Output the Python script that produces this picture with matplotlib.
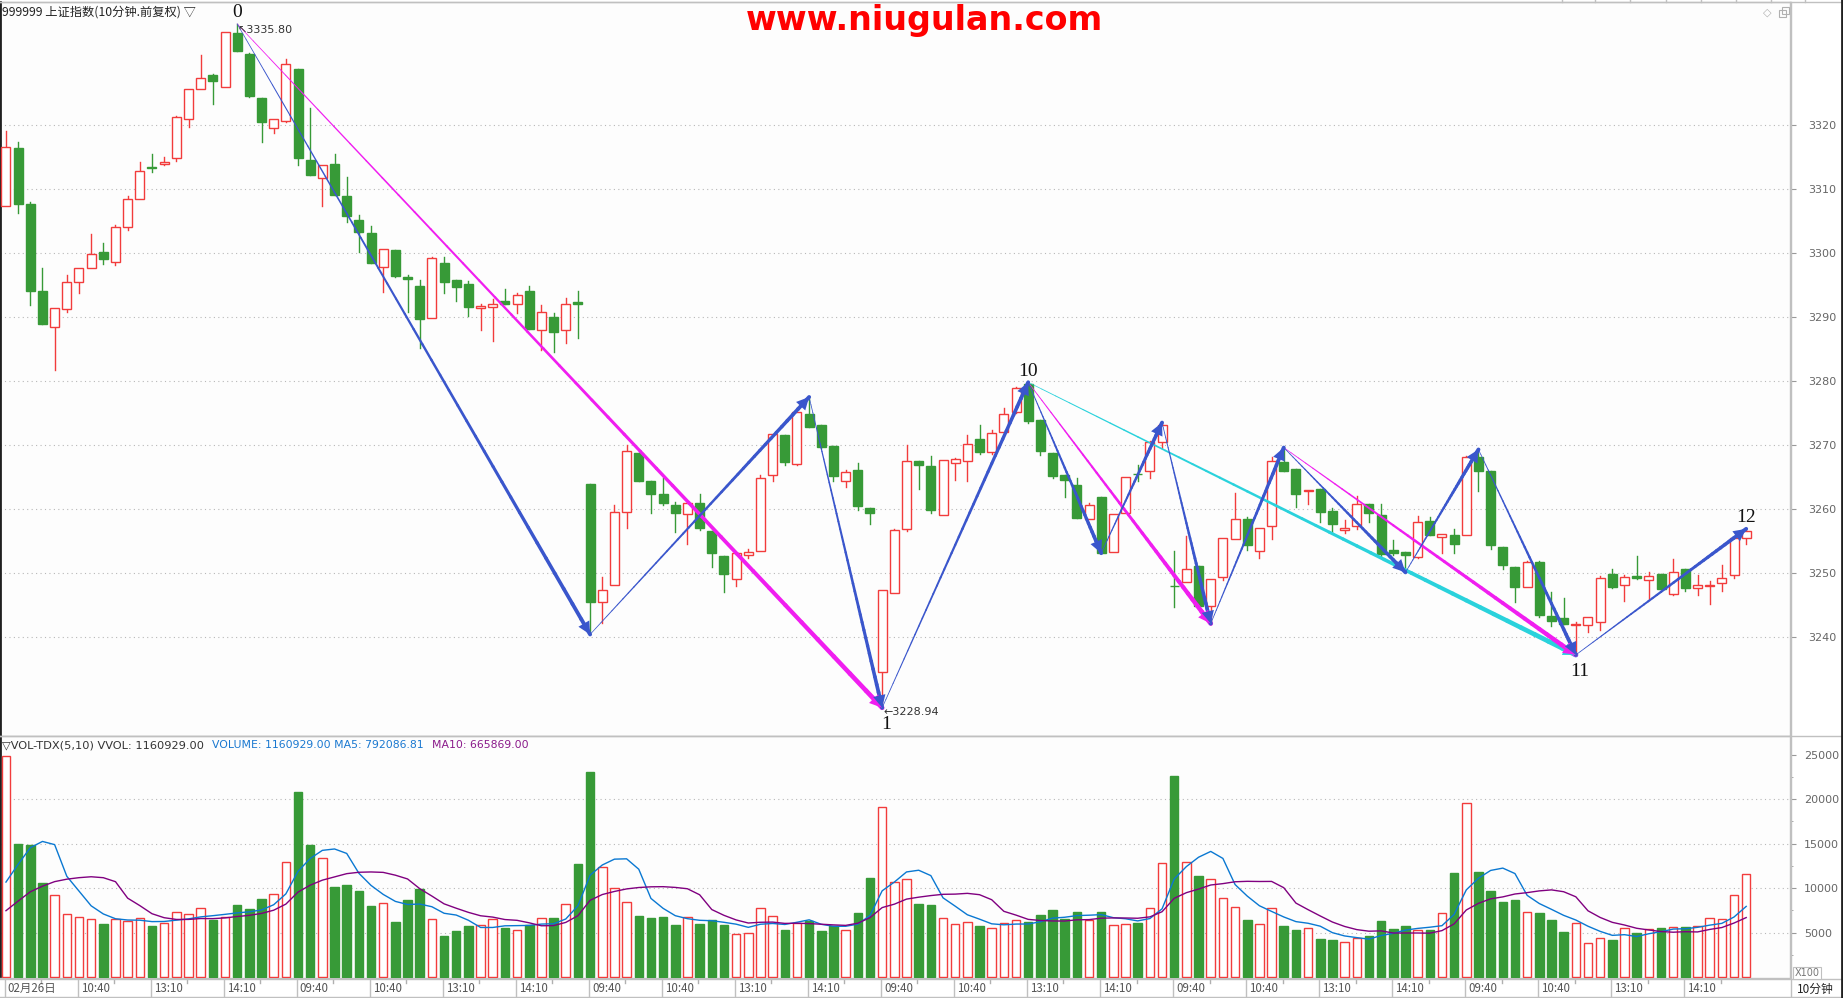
import numpy as np
import pandas as pd
import matplotlib
matplotlib.use('Agg')
import matplotlib.pyplot as plt
import matplotlib.transforms as mtransforms
from matplotlib.collections import LineCollection
from matplotlib.patches import Rectangle

# ---- data: 10-minute bars, 6 sessions x 24 bars ----
opens = [3307.3, 3316.4, 3307.7, 3294.1, 3288.4, 3291.2, 3295.5, 3297.6, 3300.1, 3298.6, 3304.1, 3308.5,
         3313.5, 3313.9, 3314.8, 3321.0, 3325.7, 3327.8, 3326.0, 3334.4, 3331.1, 3324.2, 3319.5, 3320.6,
         3328.7, 3314.5, 3311.7, 3313.9, 3308.9, 3305.2, 3303.1, 3297.8, 3300.5, 3296.3, 3294.8, 3289.9,
         3298.5, 3295.8, 3295.2, 3291.4, 3291.5, 3292.5, 3292.1, 3294.1, 3287.9, 3290.0, 3287.9, 3292.4,
         3263.9, 3245.4, 3248.1, 3259.5, 3268.7, 3264.4, 3262.4, 3260.6, 3259.2, 3260.9, 3256.5, 3252.6,
         3249.1, 3252.8, 3253.5, 3265.3, 3271.6, 3267.0, 3274.8, 3273.1, 3269.8, 3264.3, 3266.1, 3260.1,
         3234.6, 3246.8, 3256.8, 3267.5, 3266.7, 3259.1, 3267.2, 3267.5, 3270.9, 3268.9, 3272.0, 3275.1,
         3279.6, 3273.9, 3268.7, 3265.3, 3263.7, 3258.5, 3261.8, 3253.3, 3259.4, 3265.5, 3265.9, 3270.5,
         3248.0, 3248.6, 3251.1, 3244.9, 3249.4, 3255.3, 3258.5, 3253.5, 3257.3, 3267.3, 3266.2, 3262.8,
         3263.1, 3259.7, 3256.7, 3257.3, 3260.8, 3259.1, 3253.6, 3253.3, 3252.5, 3258.2, 3255.6, 3255.9,
         3255.9, 3268.2, 3265.9, 3254.0, 3250.9, 3247.8, 3251.7, 3243.3, 3242.9, 3241.9, 3241.9, 3242.4,
         3249.8, 3248.1, 3249.6, 3248.9, 3249.9, 3246.7, 3250.7, 3247.6, 3247.9, 3248.4, 3249.7, 3255.5]
highs = [3319.1, 3317.3, 3307.9, 3297.7, 3291.4, 3296.6, 3297.6, 3303.0, 3301.5, 3304.4, 3308.9, 3314.2,
         3315.5, 3315.0, 3321.4, 3325.7, 3331.0, 3328.0, 3334.6, 3335.8, 3331.3, 3324.2, 3320.9, 3330.3,
         3328.7, 3322.6, 3313.8, 3315.5, 3311.9, 3305.9, 3304.2, 3300.7, 3300.5, 3296.5, 3295.8, 3299.3,
         3299.3, 3295.8, 3295.7, 3292.0, 3292.8, 3294.4, 3293.8, 3294.8, 3291.9, 3290.7, 3292.9, 3294.0,
         3263.9, 3249.3, 3260.6, 3270.0, 3268.7, 3264.4, 3264.9, 3261.1, 3260.9, 3262.4, 3256.5, 3252.6,
         3253.2, 3253.8, 3265.3, 3271.7, 3271.6, 3275.2, 3277.5, 3273.1, 3269.8, 3266.1, 3267.2, 3260.1,
         3247.3, 3256.8, 3270.0, 3267.5, 3268.3, 3267.7, 3268.0, 3271.5, 3273.1, 3272.3, 3275.8, 3279.1,
         3279.8, 3273.9, 3268.7, 3265.3, 3264.9, 3261.0, 3261.8, 3259.2, 3265.0, 3266.9, 3270.7, 3273.5,
         3253.4, 3255.8, 3251.1, 3249.1, 3255.4, 3262.5, 3258.8, 3257.1, 3268.1, 3269.6, 3266.2, 3262.9,
         3263.1, 3260.2, 3258.3, 3262.1, 3260.8, 3260.8, 3255.2, 3253.3, 3258.9, 3258.8, 3256.1, 3256.8,
         3268.3, 3269.3, 3265.9, 3254.0, 3250.9, 3251.9, 3251.9, 3247.0, 3246.1, 3242.4, 3243.2, 3249.6,
         3250.6, 3249.7, 3252.7, 3250.2, 3249.9, 3252.2, 3250.7, 3249.7, 3248.8, 3251.3, 3255.5, 3256.9]
lows = [3307.3, 3306.2, 3291.9, 3288.9, 3281.7, 3290.8, 3293.8, 3297.6, 3298.3, 3298.1, 3303.6, 3308.5,
        3312.7, 3313.8, 3314.4, 3319.7, 3325.7, 3323.3, 3326.0, 3331.6, 3324.3, 3317.4, 3318.8, 3320.4,
        3313.8, 3312.2, 3307.4, 3309.0, 3304.9, 3300.2, 3298.4, 3293.9, 3296.3, 3290.8, 3285.1, 3289.9,
        3293.8, 3292.5, 3290.1, 3287.9, 3286.2, 3292.0, 3290.6, 3288.2, 3284.8, 3284.5, 3286.0, 3286.7,
        3240.4, 3242.2, 3248.1, 3257.1, 3264.4, 3259.4, 3260.7, 3256.4, 3254.5, 3256.7, 3251.0, 3247.0,
        3248.0, 3252.4, 3253.5, 3264.4, 3266.8, 3266.8, 3272.8, 3269.6, 3264.3, 3263.5, 3259.8, 3257.7,
        3228.94, 3246.8, 3256.6, 3263.1, 3259.4, 3259.1, 3264.6, 3264.3, 3268.6, 3268.6, 3272.0, 3275.0,
        3273.5, 3268.5, 3264.8, 3261.9, 3258.6, 3258.5, 3253.1, 3253.3, 3259.4, 3264.4, 3264.8, 3269.6,
        3244.7, 3248.6, 3244.8, 3242.1, 3248.9, 3255.3, 3253.6, 3252.4, 3255.3, 3266.0, 3260.3, 3260.8,
        3257.9, 3256.2, 3256.2, 3256.8, 3257.9, 3252.7, 3252.8, 3250.1, 3252.3, 3255.9, 3253.2, 3253.2,
        3255.9, 3262.8, 3253.8, 3250.6, 3245.5, 3247.8, 3243.2, 3241.7, 3242.0, 3237.2, 3240.8, 3241.1,
        3247.7, 3245.7, 3249.1, 3245.8, 3247.5, 3246.6, 3247.2, 3246.5, 3245.2, 3247.2, 3249.2, 3254.6]
closes = [3316.5, 3307.6, 3294.0, 3288.9, 3291.4, 3295.4, 3297.6, 3299.8, 3299.0, 3304.0, 3308.5, 3312.8,
          3313.3, 3314.2, 3321.2, 3325.7, 3327.4, 3326.8, 3334.6, 3331.6, 3324.5, 3320.4, 3320.9, 3329.6,
          3314.9, 3312.2, 3313.7, 3309.0, 3305.8, 3303.3, 3298.4, 3300.7, 3296.4, 3296.0, 3289.7, 3299.2,
          3295.4, 3294.7, 3291.6, 3291.7, 3292.0, 3292.0, 3293.4, 3288.2, 3290.8, 3287.7, 3292.0, 3292.1,
          3245.5, 3247.4, 3259.5, 3269.1, 3264.4, 3262.4, 3260.9, 3259.4, 3260.9, 3257.0, 3253.1, 3249.9,
          3253.2, 3253.3, 3264.8, 3271.7, 3267.4, 3275.2, 3272.8, 3269.7, 3265.2, 3265.8, 3260.5, 3259.3,
          3247.3, 3256.7, 3267.5, 3266.9, 3259.8, 3267.7, 3267.8, 3270.1, 3268.9, 3271.8, 3274.8, 3278.9,
          3273.8, 3269.0, 3265.2, 3264.5, 3258.6, 3260.6, 3253.1, 3259.2, 3265.0, 3265.4, 3270.4, 3273.2,
          3247.9, 3250.6, 3244.8, 3249.1, 3255.4, 3258.4, 3254.3, 3257.1, 3267.5, 3266.0, 3262.4, 3262.9,
          3259.6, 3257.6, 3257.0, 3260.8, 3259.3, 3253.0, 3253.2, 3252.8, 3257.9, 3255.9, 3256.1, 3254.6,
          3268.2, 3265.9, 3254.3, 3251.2, 3247.8, 3251.7, 3243.5, 3242.5, 3242.0, 3242.1, 3243.2, 3249.2,
          3247.8, 3249.3, 3249.2, 3249.6, 3247.5, 3250.2, 3247.6, 3248.1, 3248.2, 3249.2, 3255.5, 3256.5]
# volume in units of 100 (axis shows X100)
volumes = [24830, 14980, 14830, 10520, 9210, 7040, 6700, 6520, 5950, 6520, 6330, 6590,
           5730, 6030, 7270, 7040, 7710, 6400, 6780, 8090, 7640, 8760, 9330, 12880,
           20780, 14830, 13330, 10110, 10370, 9660, 7980, 8280, 6180, 8650, 9890, 6480,
           4610, 5170, 5730, 5840, 6480, 5540, 5280, 5840, 6590, 6670, 8200, 12700,
           23030, 12320, 9960, 8390, 6850, 6630, 6740, 5840, 6700, 5950, 6400, 5840,
           4790, 4910, 7710, 6820, 5280, 6030, 6290, 5170, 5730, 5280, 7230, 11120,
           19060, 10640, 10970, 8200, 8090, 6590, 5950, 6140, 5730, 5470, 6030, 6370,
           6180, 6970, 7530, 6520, 7300, 6400, 7300, 5800, 5920, 6100, 7710, 12770,
           22580, 12880, 11350, 10970, 8840, 7900, 6400, 5920, 7790, 5730, 5280, 5470,
           4270, 4160, 3890, 4340, 4610, 6290, 5390, 5730, 5280, 5280, 7150, 11720,
           19510, 11830, 9660, 8460, 8650, 7270, 7230, 6400, 5090, 6030, 3780, 4340,
           4160, 5470, 4980, 5360, 5470, 5650, 5650, 5770, 6590, 6480, 9210, 11609.29]
# bars before the visible window (not drawn), read back from where the MA lines start
prev_volumes = [4170, 4400, 4200, 4100, 4300, 5000, 5500, 7000, 11000]

time_labels = ['02月26日', '10:40', '13:10', '14:10'] + ['09:40', '10:40', '13:10', '14:10'] * 5
price_ticks = [3240, 3250, 3260, 3270, 3280, 3290, 3300, 3310, 3320]
vol_ticks = [5000, 10000, 15000, 20000, 25000]

# zigzag pivots (bar index, 'H' = high / 'L' = low) and labelled points
zig_idx = [19, 48, 66, 72, 84, 90, 95, 99, 105, 115, 121, 129, 143]
zig_kind = ['H', 'L', 'H', 'L', 'H', 'L', 'H', 'L', 'H', 'L', 'H', 'L', 'H']
magenta_pairs = [(19, 72), (84, 99), (105, 129)]
cyan_pairs = [(84, 129)]
wave_labels = {19: '0', 72: '1', 84: '10', 129: '11', 143: '12'}

RED = '#f23c3c'
GREEN = '#379a37'
BLUE = '#3a56cc'
MAG = '#f01ef0'
CYAN = '#2ad2dc'
CJK = ['Noto Sans CJK SC', 'DejaVu Sans']

opens = np.array(opens); highs = np.array(highs)
lows = np.array(lows); closes = np.array(closes)
volumes = np.array(volumes, dtype=float)
x = np.arange(len(opens))
up = closes >= opens

W, H = 1843, 998
fig = plt.figure(figsize=(W / 100, H / 100), dpi=100)
fig.patch.set_facecolor('white')


def fx(px):
    return px / W


def fy(py):
    return 1 - py / H


ax = fig.add_axes([0, fy(736), fx(1790), (736 - 2) / H])
axv = fig.add_axes([0, fy(978), fx(1790), (978 - 736) / H], sharex=ax)
for a in (ax, axv):
    a.set_facecolor('#fdfdfd')

# candles
bw = 0.74
for i in x:
    o, h, l, c = opens[i], highs[i], lows[i], closes[i]
    top, bot = max(o, c), min(o, c)
    if up[i]:
        ax.plot([i, i], [top, h], color=RED, lw=1, zorder=2)
        ax.plot([i, i], [l, bot], color=RED, lw=1, zorder=2)
        ax.add_patch(Rectangle((i - bw / 2, bot), bw, max(top - bot, 0.05),
                               fc='white', ec=RED, lw=1, zorder=3))
    else:
        ax.plot([i, i], [l, h], color=GREEN, lw=1, zorder=2)
        ax.add_patch(Rectangle((i - bw / 2, bot), bw, max(top - bot, 0.05),
                               fc=GREEN, ec=GREEN, lw=1, zorder=3))

# grid
for p in price_ticks:
    ax.axhline(p, color='#b8b8b8', lw=0.8, ls=(0, (1, 3)), zorder=1)


def taper(x0, y0, x1, y1, color, w0, w1, n=40):
    xs = np.linspace(x0, x1, n + 1)
    ys = np.linspace(y0, y1, n + 1)
    segs = [[(xs[k], ys[k]), (xs[k + 1], ys[k + 1])] for k in range(n)]
    lc = LineCollection(segs, linewidths=np.linspace(w0, w1, n), colors=color,
                        capstyle='round', zorder=5)
    ax.add_collection(lc)
    ax.annotate('', xy=(x1, y1), xytext=(xs[-4], ys[-4]),
                arrowprops=dict(arrowstyle='-|>,head_length=1.0,head_width=0.5',
                                color=color, lw=0, shrinkA=0, shrinkB=0,
                                mutation_scale=9), zorder=6)


def pivot(i):
    k = zig_idx.index(i)
    return highs[i] if zig_kind[k] == 'H' else lows[i]


for a, b in cyan_pairs:
    taper(a, pivot(a), b, pivot(b), CYAN, 0.5, 3.6)
for a, b in magenta_pairs:
    taper(a, pivot(a), b, pivot(b), MAG, 0.5, 3.4)
for k in range(len(zig_idx) - 1):
    a, b = zig_idx[k], zig_idx[k + 1]
    taper(a, pivot(a), b, pivot(b), BLUE, 0.5, 2.8)

for i, lab in wave_labels.items():
    k = zig_idx.index(i)
    if zig_kind[k] == 'H':
        ax.annotate(lab, (i, pivot(i)), xytext=(0, 2), textcoords='offset points',
                    ha='center', va='bottom', fontsize=14, family='Liberation Serif',
                    color='#111', zorder=7)
    else:
        ax.annotate(lab, (i + 0.3, pivot(i)), xytext=(0, -6), textcoords='offset points',
                    ha='center', va='top', fontsize=14, family='Liberation Serif',
                    color='#111', zorder=7)

hi_i = int(np.argmax(highs))
lo_i = int(np.argmin(lows))
ax.annotate('↖%.2f' % highs[hi_i], (hi_i, highs[hi_i]), xytext=(0, -1),
            textcoords='offset points', ha='left', va='top', fontsize=8, color='#333', zorder=7)
ax.annotate('←%.2f' % lows[lo_i], (lo_i, lows[lo_i]), xytext=(1, -3),
            textcoords='offset points', ha='left', va='center', fontsize=8, color='#333', zorder=7)

# volume
axv.bar(x[up], volumes[up], width=0.7, fc='white', ec=RED, lw=1, zorder=3)
axv.bar(x[~up], volumes[~up], width=0.7, fc=GREEN, ec=GREEN, lw=1, zorder=3)
vs = pd.Series(np.concatenate([prev_volumes, volumes]))
n_prev = len(prev_volumes)
ma5 = vs.rolling(5, min_periods=1).mean().values[n_prev:]
ma10 = vs.rolling(10, min_periods=1).mean().values[n_prev:]
axv.plot(x, ma5, color='#0a78d2', lw=1, zorder=4)
axv.plot(x, ma10, color='#800080', lw=1, zorder=4)
for v in vol_ticks[:-1]:
    axv.axhline(v, color='#b8b8b8', lw=0.8, ls=(0, (1, 3)), zorder=1)

# axes styling
for a in (ax, axv):
    a.spines['left'].set_color('#202020')
    a.spines['left'].set_linewidth(2)
    for s in ('right', 'top', 'bottom'):
        a.spines[s].set_color('#c0c0c0')
        a.spines[s].set_linewidth(1)
    a.tick_params(axis='x', bottom=False, labelbottom=False)
    a.tick_params(axis='y', left=False, labelleft=False, right=True, labelright=True,
                  direction='out', length=4, color='#999999', labelcolor='#666666',
                  labelsize=8)

ax.set_yticks(price_ticks)
ax.tick_params(axis='y', pad=9)
axv.set_yticks(vol_ticks)
axv.set_yticks([2500, 7500, 12500, 17500, 22500], minor=True)
axv.tick_params(axis='y', which='minor', right=True, left=False, length=2, color='#999999')
axv.tick_params(axis='y', pad=6)

# time axis under the volume panel
trans = mtransforms.blended_transform_factory(axv.transData, fig.transFigure)
for k, lab in enumerate(time_labels):
    i = k * 6
    axv.plot([i - 0.1, i - 0.1], [fy(978), fy(998)], transform=trans, color='#c0c0c0',
             lw=1, clip_on=False)
    axv.text(i + 0.15, fy(988), lab, transform=trans, ha='left', va='center',
             fontsize=8.3, color='#555555', family=CJK)
    axv.plot([i + 2.9, i + 2.9], [fy(978), fy(983)], transform=trans, color='#b0b0b0',
             lw=1, clip_on=False)

ax.set_xlim(-0.49, 146.6)
ax.set_ylim(3224.53, 3339.22)
axv.set_ylim(-112, 27079)

# frame lines
fig.add_artist(plt.Line2D([0, 1], [fy(736), fy(736)], color='#c0c0c0', lw=1))
fig.add_artist(plt.Line2D([0, 1], [fy(979), fy(979)], color='#c0c0c0', lw=1))
fig.add_artist(plt.Line2D([0, 1], [fy(2), fy(2)], color='#c0c0c0', lw=1))
fig.add_artist(plt.Line2D([0, 1], [fy(997), fy(997)], color='#c0c0c0', lw=1))
fig.add_artist(plt.Line2D([fx(1790.5), fx(1790.5)], [fy(2), fy(998)], color='#c0c0c0', lw=1))
fig.add_artist(plt.Line2D([fx(1841.5), fx(1841.5)], [fy(0), fy(998)], color='#202020', lw=2))
for tx in [1562, 1595, 1630, 1666, 1701, 1736, 1771, 1805]:
    fig.add_artist(plt.Line2D([fx(tx), fx(tx)], [fy(0), fy(2)], color='#c0c0c0', lw=1))

# texts
fig.text(fx(2), fy(12), '999999 上证指数(10分钟.前复权) ▽', fontsize=8.8, family=CJK,
         color='#222222', va='center', ha='left')
fig.text(fx(924), fy(30), 'www.niugulan.com', fontsize=24, weight='heavy', color='#ff0000',
         ha='center', va='baseline', family='DejaVu Sans')
fig.text(fx(1767), fy(13), '◇', fontsize=8, color='#b0b0b0', ha='center', va='center')
fig.add_artist(Rectangle((fx(1779), fy(17)), fx(7), 7 / H, fill=False, ec='#b0b0b0', lw=0.8))
fig.add_artist(Rectangle((fx(1782), fy(14)), fx(7), 7 / H, fill=False, ec='#b0b0b0', lw=0.8))

fig.text(fx(2), fy(745), '▽VOL-TDX(5,10) VVOL: 1160929.00', fontsize=8.2, color='#333333',
         va='center', ha='left')
fig.text(fx(212), fy(745), 'VOLUME: 1160929.00 MA5: 792086.81', fontsize=7.8, color='#1a78d0',
         va='center', ha='left')
fig.text(fx(432), fy(745), 'MA10: 665869.00', fontsize=7.8, color='#8b1a8b',
         va='center', ha='left')

fig.text(fx(1807), fy(973), 'X100', fontsize=7, color='#777777', ha='center', va='center',
         bbox=dict(boxstyle='square,pad=0.15', fc='white', ec='#c0c0c0', lw=0.8))
fig.text(fx(1815), fy(989), '10分钟', fontsize=8.5, color='#222222', family=CJK,
         ha='center', va='center')

fig.savefig('out.png', dpi=100, facecolor='white')
